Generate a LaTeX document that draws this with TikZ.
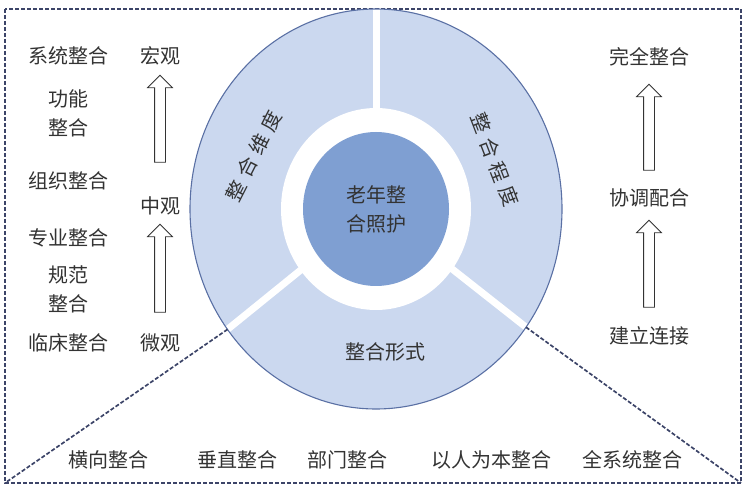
\documentclass[tikz,border=0pt]{standalone}
\usepackage{fontspec}
\newfontfamily\cjk{Noto Sans CJK SC}
\usetikzlibrary{shapes.arrows,shapes.geometric,calc}
\definecolor{ringfill}{HTML}{CBD8EF}
\definecolor{ringline}{HTML}{5A70A4}
\definecolor{corefill}{HTML}{7F9FD2}
\definecolor{framecol}{HTML}{3C4468}
\definecolor{txt}{HTML}{333333}
\newcommand{\gapc}{\hspace{6pt}}
\begin{document}
\begin{tikzpicture}[x=1pt,y=-1pt,
  lbl/.style={font=\cjk\fontsize{20}{29}\selectfont, text=txt, inner sep=0pt, align=center},
  rlbl/.style={font=\cjk\fontsize{20}{24}\selectfont, text=txt, inner sep=0pt},
  hollow/.style={single arrow, draw=txt, fill=white, line width=0.8pt, rotate=90,
    inner sep=5pt, single arrow head extend=7pt},
  framestyle/.style={draw=framecol, line width=1.7pt, dash pattern=on 4pt off 2pt}]
\useasboundingbox (0,0) rectangle (744,486);
% frame
\coordinate (tl) at (5,9);
\coordinate (bl) at (5,483);
\coordinate (br) at (741,483);
\draw[framestyle] (tl) rectangle (br);
% ring
\coordinate (c) at (376,209);
\coordinate (pl) at (227.5,329.4);
\coordinate (pr) at (526,327.2);
\fill[ringfill] (c) ellipse [x radius=186pt, y radius=200pt];
\begin{scope}
  \clip (c) ellipse [x radius=186pt, y radius=200pt];
  \draw[white, line width=7pt] (c) -- ++(0,-260);
  \draw[white, line width=7pt] (c) -- ($(c)!1.5!(pl)$);
  \draw[white, line width=7pt] (c) -- ($(c)!1.5!(pr)$);
\end{scope}
\fill[white] (c) ellipse [x radius=95pt, y radius=101pt];
\draw[ringline, line width=1.1pt] (c) ellipse [x radius=186pt, y radius=200pt];
\node[ellipse, fill=corefill, minimum width=146pt, minimum height=154pt, inner sep=0pt] (core) at (c) {};
\node[lbl] (coretext) at (c) {老年整\\合照护};
% diagonal dashed connectors
\draw[framestyle] (pl) -- (bl);
\draw[framestyle] (pr) -- (br);
% segment labels
\node[rlbl, rotate=63] (dim) at (253.5,156) {整\gapc 合\gapc 维\gapc 度};
\node[rlbl, rotate=-69] (deg) at (495,160) {整\gapc 合\gapc 程\gapc 度};
\node[lbl] (form) at (385,352) {整合形式};
% left column
\node[lbl] (l1) at (68,56) {系统整合};
\node[lbl] (l2) at (68,113) {功能\\整合};
\node[lbl] (l3) at (68,181) {组织整合};
\node[lbl] (l4) at (68,238) {专业整合};
\node[lbl] (l5) at (68,289.5) {规范\\整合};
\node[lbl] (l6) at (68,343) {临床整合};
\node[lbl] (m1) at (160,56) {宏观};
\node[lbl] (m2) at (160,206) {中观};
\node[lbl] (m3) at (160,343) {微观};
\node[hollow, minimum height=87pt] (a1) at (160,121.5) {};
\node[hollow, minimum height=88pt] (a2) at (160,271) {};
% right column
\node[lbl] (r1) at (649,57) {完全整合};
\node[lbl] (r2) at (649,198) {协调配合};
\node[lbl] (r3) at (649,336) {建立连接};
\node[hollow, minimum height=86pt] (a3) at (649,130) {};
\node[hollow, minimum height=87pt] (a4) at (649,266.5) {};
% bottom row
\node[lbl] (b1) at (108,460) {横向整合};
\node[lbl] (b2) at (237,460) {垂直整合};
\node[lbl] (b3) at (347,460) {部门整合};
\node[lbl] (b4) at (491,460) {以人为本整合};
\node[lbl] (b5) at (632,460) {全系统整合};
\end{tikzpicture}
\end{document}
